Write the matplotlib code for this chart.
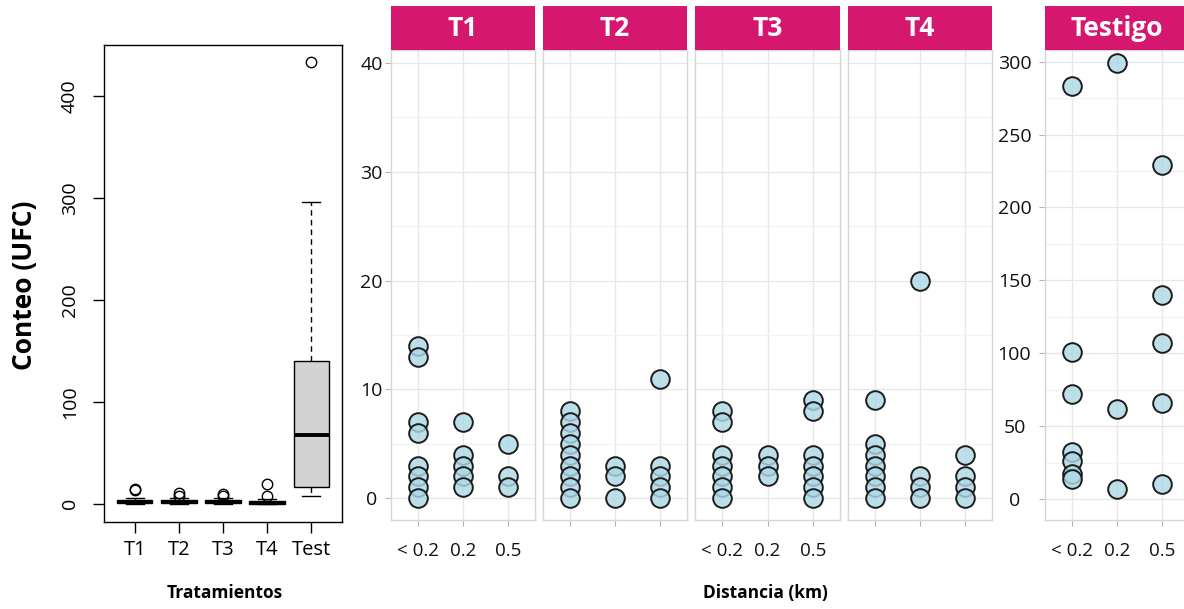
import matplotlib.pyplot as plt
import numpy as np

plt.rcParams['font.family'] = ['Open Sans', 'DejaVu Sans']

# Boxplot (left panel) - summary stats
box_labels = ['T1', 'T2', 'T3', 'T4', 'Test']
box_q1 = [1, 0.5, 1, 0, 16]
box_med = [2, 2, 2, 1, 67]
box_q3 = [4, 3.5, 4, 3, 140]
box_lo = [0, 0, 0, 0, 8]
box_hi = [6, 6, 6, 5, 296]
box_fliers = [[13, 14], [8, 10], [8, 9], [8, 19.5], [433]]

# Facet scatter data, one list per distance class (< 0.2, 0.2, 0.5)
dist_labels = ['< 0.2', '0.2', '0.5']
t1_vals = [[14, 13, 7, 6, 3, 2, 1, 0], [7, 4, 3, 2, 1], [5, 2, 1]]
t2_vals = [[8, 7, 6, 5, 4, 3, 2, 1, 0], [3, 2, 0], [11, 3, 2, 1, 0]]
t3_vals = [[8, 7, 4, 3, 2, 1, 0], [4, 3, 2], [9, 8, 4, 3, 2, 1, 0]]
t4_vals = [[9, 5, 4, 3, 2, 1, 0], [20, 2, 1, 0], [4, 2, 1, 0]]
testigo_vals = [[283, 101, 72, 32, 26, 17, 14], [299, 62, 7], [229, 140, 107, 66, 10]]
facet_names = ['T1', 'T2', 'T3', 'T4', 'Testigo']

W, H = 1184, 609
fig = plt.figure(figsize=(W / 100, H / 100), dpi=100)


def px_axes(x0, y0, x1, y1):
    return fig.add_axes([x0 / W, 1 - y1 / H, (x1 - x0) / W, (y1 - y0) / H])


# ---- left boxplot ----
ax = px_axes(104, 45, 342, 522)
stats = []
for i in range(len(box_labels)):
    stats.append(dict(label=box_labels[i], q1=box_q1[i], med=box_med[i], q3=box_q3[i],
                      whislo=box_lo[i], whishi=box_hi[i], fliers=box_fliers[i]))
ax.bxp(stats, widths=0.8, patch_artist=True,
       boxprops=dict(facecolor='#D3D3D3', edgecolor='black', linewidth=1),
       whiskerprops=dict(linestyle=(0, (4, 3)), color='black', linewidth=1),
       capprops=dict(color='black', linewidth=1),
       medianprops=dict(color='black', linewidth=2.8, solid_capstyle='butt'),
       flierprops=dict(marker='o', markerfacecolor='none', markeredgecolor='black',
                       markersize=7.5, markeredgewidth=1))
ax.set_xlim(0.3, 5.7)
ax.set_ylim(-18, 450)
ax.set_yticks([0, 100, 200, 300, 400])
ax.tick_params(axis='y', length=8, width=1, pad=10, labelsize=14, labelrotation=90)
for lab in ax.get_yticklabels():
    lab.set_verticalalignment('center')
ax.tick_params(axis='x', length=8, width=1, pad=5, labelsize=14.5)
for s in ax.spines.values():
    s.set_linewidth(1)
fig.text(25 / W, 1 - 285 / H, 'Conteo (UFC)', rotation=90, fontsize=19,
         fontweight='bold', ha='center', va='center')
fig.text(225 / W, 1 - 593 / H, 'Tratamientos', fontsize=12.5, fontweight='bold',
         ha='center', va='center')

# ---- facets ----
panel_x = [(391, 535), (543, 687), (695, 840), (848, 992), (1045, 1189)]
facet_data = [t1_vals, t2_vals, t3_vals, t4_vals, testigo_vals]
show_x = [True, False, True, False, True]
strip_col = '#D5176F'
grid_major = '#E6E6E6'
grid_minor = '#F2F2F2'

for k, name in enumerate(facet_names):
    x0, x1 = panel_x[k]
    axf = px_axes(x0, 50, x1, 520)
    vals = facet_data[k]
    for j, v in enumerate(vals):
        axf.scatter(np.full(len(v), j + 1), v, s=180,
                    facecolor=(0.678, 0.847, 0.902, 0.82),
                    edgecolor='#1c1c1c', linewidths=1.4, zorder=3)
    axf.set_xlim(0.4, 3.6)
    axf.set_xticks([1, 2, 3])
    if name == 'Testigo':
        axf.set_ylim(-14.4, 308)
        axf.set_yticks(np.arange(0, 301, 50))
        axf.set_yticks(np.arange(25, 300, 50), minor=True)
        ypad = 18
    else:
        axf.set_ylim(-2.0, 41.2)
        axf.set_yticks([0, 10, 20, 30, 40])
        axf.set_yticks([5, 15, 25, 35], minor=True)
        ypad = 10
    axf.grid(True, which='major', color=grid_major, linewidth=0.9, zorder=0)
    axf.grid(True, which='minor', axis='y', color=grid_minor, linewidth=0.9, zorder=0)
    axf.set_axisbelow(True)
    for s in axf.spines.values():
        s.set_color('#D6D6D6')
        s.set_linewidth(1)
    axf.tick_params(axis='both', which='major', length=4, color='#B5B5B5',
                    labelsize=13.5, labelcolor='#111111')
    axf.tick_params(axis='y', which='minor', length=0)
    if show_x[k]:
        axf.set_xticklabels(dist_labels)
        axf.tick_params(axis='x', pad=12)
    else:
        axf.set_xticklabels([])
    if k in (0, 4):
        axf.tick_params(axis='y', pad=ypad, labelsize=14)
        for lab in axf.get_yticklabels():
            lab.set_horizontalalignment('center')
    else:
        axf.tick_params(axis='y', labelleft=False, length=0)
    # strip
    axs = px_axes(x0, 6, x1, 50)
    axs.set_facecolor(strip_col)
    axs.set_xticks([])
    axs.set_yticks([])
    for s in axs.spines.values():
        s.set_visible(False)
    axs.text(0.5, 0.5, name, color='white', fontsize=19, fontweight='bold',
             ha='center', va='center', transform=axs.transAxes)

fig.text(765 / W, 1 - 593 / H, 'Distancia (km)', fontsize=12.5, fontweight='bold',
         ha='center', va='center')

fig.savefig('out.png', dpi=100)
